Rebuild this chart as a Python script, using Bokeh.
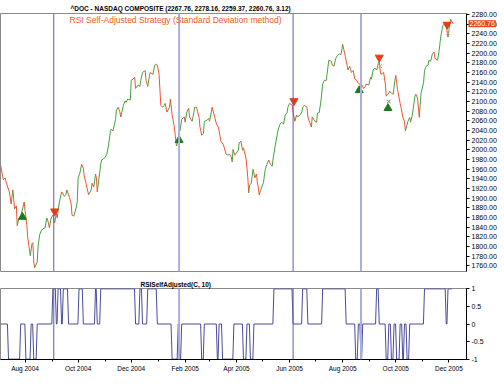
import pandas as pd
from bokeh.plotting import figure
from bokeh.layouts import column
from bokeh.models import (ColumnDataSource, Range1d, Span, Label, Title, SingleIntervalTicker,
                          PrintfTickFormatter, FixedTicker, DatetimeTickFormatter)
from bokeh.embed import file_html
from bokeh.resources import INLINE

# ---------------- data ----------------
price_dates = [
    "2004-07-04", "2004-07-07", "2004-07-09", "2004-07-12", "2004-07-14", "2004-07-16", "2004-07-18", "2004-07-20",
    "2004-07-22", "2004-07-23", "2004-07-25", "2004-07-27", "2004-07-30", "2004-07-31",
    "2004-08-01", "2004-08-03", "2004-08-04", "2004-08-07", "2004-08-09", "2004-08-10", "2004-08-11", "2004-08-12",
    "2004-08-15", "2004-08-16", "2004-08-18", "2004-08-20", "2004-08-21", "2004-08-24", "2004-08-26", "2004-08-27",
    "2004-08-29", "2004-08-31",
    "2004-09-02", "2004-09-04", "2004-09-06", "2004-09-07", "2004-09-09", "2004-09-12", "2004-09-13", "2004-09-15",
    "2004-09-17", "2004-09-18", "2004-09-21", "2004-09-23", "2004-09-24", "2004-09-26", "2004-09-29", "2004-09-30",
    "2004-10-01", "2004-10-03", "2004-10-05", "2004-10-07", "2004-10-08", "2004-10-10", "2004-10-11", "2004-10-13",
    "2004-10-16", "2004-10-17", "2004-10-19", "2004-10-21", "2004-10-22", "2004-10-23", "2004-10-27", "2004-10-28",
    "2004-10-30",
    "2004-11-01", "2004-11-03", "2004-11-05", "2004-11-07", "2004-11-08", "2004-11-10", "2004-11-13", "2004-11-14",
    "2004-11-16", "2004-11-18", "2004-11-19", "2004-11-22", "2004-11-24", "2004-11-25", "2004-11-27", "2004-11-30",
    "2004-12-01", "2004-12-03", "2004-12-05", "2004-12-06", "2004-12-09", "2004-12-11", "2004-12-12", "2004-12-14",
    "2004-12-17", "2004-12-18", "2004-12-20", "2004-12-22", "2004-12-23", "2004-12-26", "2004-12-28", "2004-12-29",
    "2004-12-31",
    "2005-01-02", "2005-01-04", "2005-01-06", "2005-01-08", "2005-01-09", "2005-01-11", "2005-01-14", "2005-01-15",
    "2005-01-17", "2005-01-19", "2005-01-20", "2005-01-22", "2005-01-24", "2005-01-25", "2005-01-26", "2005-01-28",
    "2005-01-31",
    "2005-02-01", "2005-02-03", "2005-02-05", "2005-02-06", "2005-02-09", "2005-02-11", "2005-02-12", "2005-02-14",
    "2005-02-17", "2005-02-18", "2005-02-20", "2005-02-22", "2005-02-23", "2005-02-26", "2005-02-28",
    "2005-03-01", "2005-03-04", "2005-03-07", "2005-03-09", "2005-03-11", "2005-03-12", "2005-03-14", "2005-03-17",
    "2005-03-18", "2005-03-20", "2005-03-22", "2005-03-24", "2005-03-26", "2005-03-27", "2005-03-28", "2005-03-30",
    "2005-04-03", "2005-04-04", "2005-04-06", "2005-04-08", "2005-04-09", "2005-04-12", "2005-04-14", "2005-04-15",
    "2005-04-16", "2005-04-18", "2005-04-20", "2005-04-22", "2005-04-24", "2005-04-25", "2005-04-26", "2005-04-27",
    "2005-04-30",
    "2005-05-02", "2005-05-04", "2005-05-06", "2005-05-08", "2005-05-10", "2005-05-12", "2005-05-13", "2005-05-15",
    "2005-05-18", "2005-05-19", "2005-05-21", "2005-05-23", "2005-05-25", "2005-05-27", "2005-05-29", "2005-05-30",
    "2005-06-01", "2005-06-04", "2005-06-05", "2005-06-07", "2005-06-09", "2005-06-10", "2005-06-13", "2005-06-15",
    "2005-06-16", "2005-06-18", "2005-06-21", "2005-06-22", "2005-06-24", "2005-06-26", "2005-06-27", "2005-06-30",
    "2005-07-02", "2005-07-03", "2005-07-05", "2005-07-07", "2005-07-09", "2005-07-11", "2005-07-13", "2005-07-14",
    "2005-07-16", "2005-07-19", "2005-07-20", "2005-07-22", "2005-07-24", "2005-07-26", "2005-07-28", "2005-07-30",
    "2005-08-01", "2005-08-04", "2005-08-06", "2005-08-07", "2005-08-09", "2005-08-11", "2005-08-13", "2005-08-15",
    "2005-08-17", "2005-08-18", "2005-08-20", "2005-08-23", "2005-08-25", "2005-08-27", "2005-08-28", "2005-08-31",
    "2005-09-02", "2005-09-03", "2005-09-05", "2005-09-07", "2005-09-09", "2005-09-11", "2005-09-12", "2005-09-13",
    "2005-09-14", "2005-09-17", "2005-09-19", "2005-09-20", "2005-09-22", "2005-09-24", "2005-09-26", "2005-09-28",
    "2005-09-30",
    "2005-10-01", "2005-10-03", "2005-10-06", "2005-10-07", "2005-10-09", "2005-10-11", "2005-10-12", "2005-10-15",
    "2005-10-17", "2005-10-18", "2005-10-20", "2005-10-23", "2005-10-24", "2005-10-26", "2005-10-28", "2005-10-29",
    "2005-10-30",
    "2005-11-02", "2005-11-03", "2005-11-05", "2005-11-07", "2005-11-08", "2005-11-10", "2005-11-12", "2005-11-14",
    "2005-11-15", "2005-11-18", "2005-11-20", "2005-11-21", "2005-11-22", "2005-11-24", "2005-11-27", "2005-11-28",
    "2005-11-30",
    "2005-12-01", "2005-12-02", "2005-12-03", "2005-12-06",
]
price_close = [
    1968, 1938, 1942, 1923, 1913, 1888, 1917, 1878, 1884, 1843, 1859, 1863, 1884, 1892,
    1874, 1845, 1820, 1781, 1806, 1808, 1768, 1756, 1768, 1801, 1826, 1834, 1836, 1839, 1859, 1855, 1839, 1859,
    1865, 1849, 1869, 1859, 1888, 1913, 1911, 1904, 1907, 1917, 1902, 1888, 1865, 1863, 1882, 1894,
    1942, 1952, 1970, 1962, 1946, 1931, 1923, 1907, 1917, 1931, 1923, 1950, 1942, 1913, 1971, 1979, 1981,
    1985, 1991, 2010, 2037, 2043, 2039, 2063, 2082, 2088, 2078, 2068, 2092, 2101, 2098, 2105, 2103,
    2144, 2146, 2150, 2127, 2134, 2131, 2144, 2160, 2164, 2144, 2131, 2154, 2160, 2156, 2175, 2177, 2175,
    2156, 2092, 2088, 2092, 2096, 2078, 2088, 2105, 2072, 2053, 2039, 2008, 2020, 2037, 2039, 2063, 2068,
    2057, 2078, 2086, 2068, 2059, 2078, 2088, 2088, 2067, 2047, 2030, 2034, 2059, 2061, 2065,
    2059, 2088, 2067, 2053, 2047, 2039, 2018, 2010, 2004, 1991, 1989, 1991, 1985, 1975, 2001, 1989,
    1999, 2014, 2018, 1999, 2004, 1981, 1942, 1911, 1927, 1931, 1960, 1942, 1950, 1931, 1923, 1907, 1923,
    1933, 1960, 1970, 1979, 1970, 1966, 1981, 2004, 2034, 2043, 2053, 2057, 2053, 2072, 2076, 2088,
    2096, 2092, 2078, 2059, 2072, 2068, 2072, 2078, 2088, 2092, 2088, 2068, 2057, 2047, 2068, 2059,
    2057, 2076, 2077, 2101, 2136, 2144, 2143, 2156, 2185, 2183, 2175, 2173, 2189, 2195, 2198, 2197,
    2218, 2193, 2175, 2165, 2173, 2160, 2164, 2146, 2144, 2140, 2136, 2134, 2127, 2131, 2136, 2134,
    2150, 2146, 2165, 2169, 2165, 2179, 2183, 2165, 2156, 2160, 2136, 2111, 2115, 2121, 2117, 2115, 2144,
    2154, 2125, 2096, 2088, 2068, 2059, 2039, 2059, 2067, 2057, 2072, 2111, 2115, 2107, 2067, 2092, 2117,
    2140, 2164, 2173, 2175, 2185, 2183, 2198, 2202, 2189, 2185, 2208, 2224, 2237, 2257, 2262, 2257, 2233,
    2247, 2261, 2270, 2260.76,
]

buy_dates = ["2004-07-29", "2005-01-25", "2005-08-20", "2005-09-22"]
buy_levels = [1861, 2020, 2123, 2086]
sell_dates = ["2004-09-04", "2005-06-06", "2005-09-12", "2005-11-29"]
sell_levels = [1873, 2101, 2191, 2259]
exit_dates = ["2005-09-13", "2005-09-23", "2005-11-30"]
exit_levels = [2173, 2100, 2241]
exit_colors = ["#f08a70", "#5aa05a", "#f08a70"]

signal_line_dates = ["2004-09-03", "2005-01-25", "2005-06-05", "2005-08-22"]
signal_line_colors = ["#5c5cb0", "#a9b0de", "#5c5cb0", "#a9b0de"]
signal_line_widths = [1, 2, 1, 2]

rsi_change_dates = [
    "2004-07-04", "2004-07-13", "2004-07-27", "2004-08-02", "2004-08-08", "2004-08-11", "2004-08-15",
    "2004-09-02", "2004-09-06", "2004-09-08", "2004-09-12", "2004-09-14", "2004-09-20",
    "2004-10-02", "2004-10-07", "2004-10-21", "2004-10-23", "2004-10-27",
    "2004-12-06", "2004-12-11", "2004-12-14", "2004-12-20", "2004-12-31",
    "2005-01-17", "2005-01-24", "2005-01-26", "2005-01-28",
    "2005-02-20", "2005-02-23", "2005-03-10", "2005-03-12", "2005-03-16", "2005-03-29",
    "2005-04-09", "2005-04-13", "2005-04-17", "2005-04-21",
    "2005-05-14", "2005-06-05", "2005-06-16", "2005-06-22", "2005-07-09",
    "2005-08-05", "2005-08-16", "2005-08-19", "2005-08-22", "2005-08-24",
    "2005-09-09", "2005-09-12", "2005-09-20", "2005-09-23", "2005-09-26", "2005-09-29", "2005-10-02",
    "2005-10-06", "2005-10-09", "2005-10-11", "2005-10-14", "2005-10-17",
    "2005-11-03", "2005-11-28", "2005-11-30",
]
rsi_change_values = [
    0, -1, 0, -1, 0, -1, 0,
    1, 0, 1, 0, 1, 0,
    1, 0, 1, 0, 1,
    0, 1, 0, 1, 0,
    -1, 0, -1, 0,
    -1, 0, -1, 0, -1, 0,
    -1, 0, -1, 0,
    1, 0, 1, 0, 1,
    0, -1, 0, -1, 0,
    1, 0, -1, 0, -1, 0, -1,
    0, -1, 0, -1, 0,
    1, 0, 1,
]
rsi_last_date = "2005-12-06"

price_ticks_interval = 20
rsi_ticks = [-1, -0.5, 0, 0.5, 1]
rsi_tick_labels = ["-1", "-0.5", "0", "0.5", "1"]
month_label_ticks = ["2004-08-01", "2004-10-01", "2004-12-01", "2005-02-01", "2005-04-01",
                     "2005-06-01", "2005-08-01", "2005-10-01", "2005-12-01"]
month_minor_ticks = ["2004-07-01", "2004-08-01", "2004-09-01", "2004-10-01", "2004-11-01", "2004-12-01",
                     "2005-01-01", "2005-02-01", "2005-03-01", "2005-04-01", "2005-05-01", "2005-06-01",
                     "2005-07-01", "2005-08-01", "2005-09-01", "2005-10-01", "2005-11-01", "2005-12-01"]

title_text = "^DOC - NASDAQ COMPOSITE (2267.76, 2278.16, 2259.37, 2260.76, 3.12)"
strategy_text = "RSI Self-Adjusted Strategy (Standard Deviation method)"
indicator_text = "RSISelfAdjusted(C, 10)"
last_price = 2260.76

# ---------------- helpers ----------------
def ms(d):
    return pd.Timestamp(d).value / 1e6

FONT = "Liberation Sans"
FW = 466
H1 = 258
GREEN = "#43a343"
RED = "#f0552d"

x_range = Range1d(pd.Timestamp("2004-07-03 19:00"), pd.Timestamp("2005-12-21 06:00"))

# ---------------- price panel ----------------
p1 = figure(frame_width=FW, frame_height=H1, x_range=x_range, y_range=Range1d(1748.4, 2281.9),
            x_axis_type="datetime", x_axis_location=None, y_axis_location="right",
            output_backend="svg", toolbar_location=None,
            min_border_left=0, min_border_top=11, min_border_bottom=0, min_border_right=28)
p1.title = Title(text=title_text, align="left", offset=70, standoff=4,
                 text_font=FONT, text_font_style="bold", text_font_size="6.5px", text_color="#000000")

xs = pd.to_datetime(price_dates)
seg = ColumnDataSource(dict(
    x0=xs[:-1], x1=xs[1:], y0=price_close[:-1], y1=price_close[1:],
    c=[GREEN if b >= a else RED for a, b in zip(price_close[:-1], price_close[1:])],
))
p1.segment(x0="x0", y0="y0", x1="x1", y1="y1", line_color="c", line_width=1, source=seg)

for d, c, w in zip(signal_line_dates, signal_line_colors, signal_line_widths):
    p1.add_layout(Span(location=ms(d), dimension="height", line_color=c, line_width=w))

p1.scatter(pd.to_datetime(buy_dates), buy_levels, marker="triangle", size=8,
           fill_color="#1e7a1e", line_color="#1e7a1e")
p1.scatter(pd.to_datetime(sell_dates), sell_levels, marker="inverted_triangle", size=8,
           fill_color="#ee3a12", line_color="#ee3a12")
p1.scatter(pd.to_datetime(exit_dates), exit_levels, marker="x", size=5, line_color=exit_colors, line_width=1)

ax = p1.yaxis[0]
ax.ticker = SingleIntervalTicker(interval=price_ticks_interval, num_minor_ticks=0)
ax.formatter = PrintfTickFormatter(format="%.2f")

p1.add_layout(Label(x=69, y=H1 - 6, x_units="screen", y_units="screen", text=strategy_text,
                    text_font=FONT, text_font_size="8.5px", text_align="left",
                    text_baseline="middle", text_color="#f05a28"))
# last-price box: placed in a side panel so it is not clipped to the frame
p1.add_layout(Label(x=FW + 2, y=last_price, x_units="screen", y_units="data", text="2260.76",
                    text_font=FONT, text_font_size="7px", text_align="left", text_baseline="middle",
                    text_color="white", background_fill_color="#e8461e", padding=1), "below")

# ---------------- indicator panel ----------------
p2 = figure(frame_width=FW, frame_height=71, x_range=x_range, y_range=Range1d(-1.01, 1.01),
            x_axis_type="datetime", y_axis_location="right",
            output_backend="svg", toolbar_location=None,
            min_border_left=0, min_border_top=0, min_border_bottom=0, min_border_right=28)
p2.title = Title(text=indicator_text, align="left", offset=140, standoff=1,
                 text_font=FONT, text_font_style="bold", text_font_size="6.5px", text_color="#000000")

rx, ry = [], []
cd = pd.to_datetime(rsi_change_dates)
for i, (d, v) in enumerate(zip(cd, rsi_change_values)):
    rx.append(d)
    ry.append(v)
    nxt = cd[i + 1] if i + 1 < len(cd) else pd.Timestamp(rsi_last_date)
    rx.append(nxt - pd.Timedelta(hours=30))
    ry.append(v)
p2.line(rx, ry, line_color="#4b4b9b", line_width=1)

for d, c, w in zip(signal_line_dates, signal_line_colors, signal_line_widths):
    p2.add_layout(Span(location=ms(d), dimension="height", line_color=c, line_width=w))

ay = p2.yaxis[0]
ay.ticker = FixedTicker(ticks=rsi_ticks)
ay.major_label_overrides = {t: l for t, l in zip(rsi_ticks, rsi_tick_labels)}

axx = p2.xaxis[0]
axx.ticker = FixedTicker(ticks=[ms(d) for d in month_label_ticks],
                         minor_ticks=[ms(d) for d in month_minor_ticks])
axx.formatter = DatetimeTickFormatter(days="%b %Y", months="%b %Y", years="%b %Y")

# ---------------- common styling ----------------
for p in (p1, p2):
    p.grid.visible = False
    p.outline_line_color = "#8a8a8a"
    p.background_fill_color = "white"
    p.border_fill_color = "white"
    for a in p.axis:
        a.axis_line_color = "black"
        a.major_tick_line_color = "black"
        a.major_tick_in = 0
        a.major_tick_out = 3
        a.minor_tick_in = 0
        a.minor_tick_out = 2
        a.minor_tick_line_color = "black"
        a.major_label_standoff = 2
        a.major_label_text_font = FONT
        a.major_label_text_font_size = "7px"
        a.major_label_text_color = "black"
axx.major_label_text_font_size = "6.5px"
p1.yaxis[0].minor_tick_line_color = None

layout = column(p1, p2, spacing=0)
open("out.html", "w").write(file_html(layout, INLINE))
